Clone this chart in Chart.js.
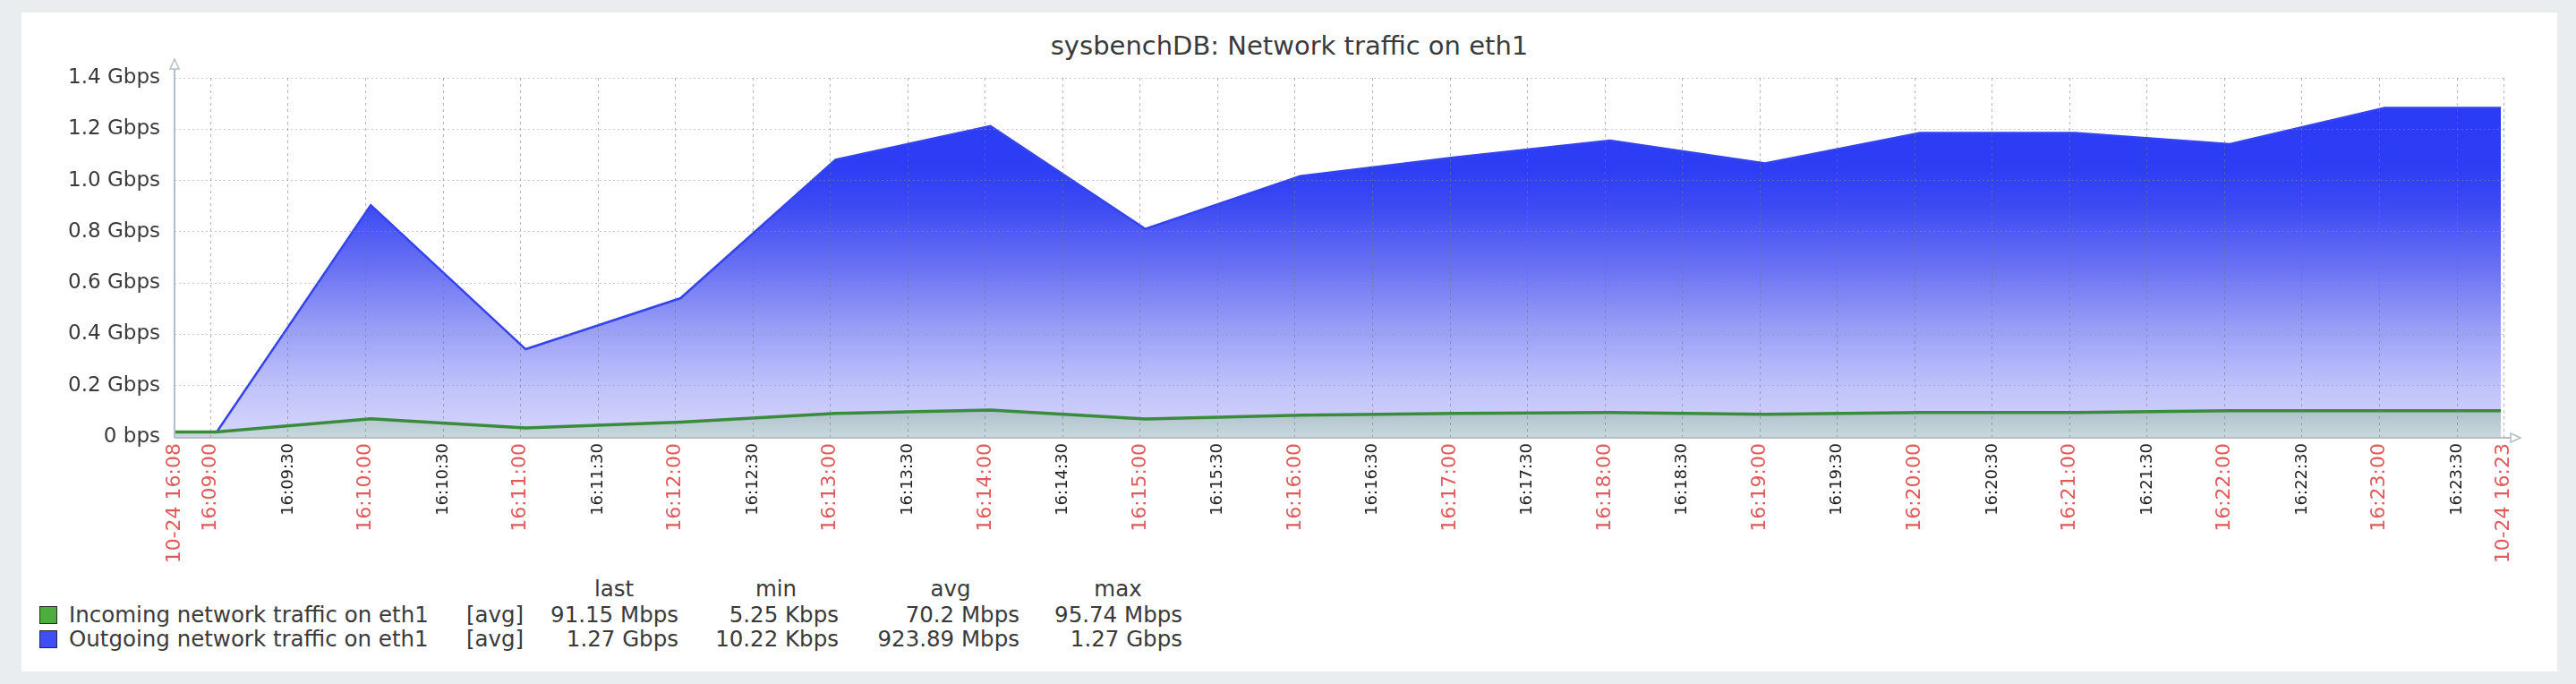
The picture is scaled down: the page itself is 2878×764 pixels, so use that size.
<!DOCTYPE html>
<html>
<head>
<meta charset="utf-8">
<title>sysbenchDB: Network traffic on eth1</title>
<script src="https://cdn.jsdelivr.net/npm/chart.js@4.4.0/dist/chart.umd.min.js"></script>
<style>
  html, body { margin: 0; padding: 0; }
  body { width: 2878px; height: 764px; background: #e9edf0; position: relative; overflow: hidden; font-family: "DejaVu Sans", sans-serif; color: #3a3a3a; }
  #panel { position: absolute; left: 24px; top: 14px; width: 2833px; height: 736px; background: #fff; }
  #title { position: absolute; left: 0; width: 2833px; top: 20px; text-align: center; font-size: 29px; line-height: 34px; color: #3a3a3a; }
  #chartBox { position: absolute; left: 0; top: 0; width: 2833px; height: 614px; }
  .lg { position: absolute; font-size: 24.5px; line-height: 28px; white-space: nowrap; color: #3a3a3a; }
  .sw { position: absolute; width: 18px; height: 18px; border: 1px solid #2a2a2a; }
</style>
</head>
<body>
<div id="panel">
  <div id="title">sysbenchDB: Network traffic on eth1</div>
  <div id="chartBox"><canvas id="chart"></canvas></div>
  <div id="legend"></div>
</div>
<script>
// sample times (one point per minute) and values in Gbps
const times = ['16:08:02', '16:09:02', '16:10:02', '16:11:02', '16:12:02', '16:13:02', '16:14:02', '16:15:02',
               '16:16:02', '16:17:02', '16:18:02', '16:19:02', '16:20:02', '16:21:02', '16:22:02', '16:23:02', '16:23:47'];
const incoming = [0.019, 0.019, 0.071, 0.035, 0.058, 0.092, 0.105, 0.070, 0.085, 0.092, 0.095, 0.088, 0.095, 0.095, 0.102, 0.102, 0.102];
const outgoing = [0.014, 0.014, 0.904, 0.342, 0.541, 1.081, 1.212, 0.811, 1.017, 1.090, 1.156, 1.067, 1.185, 1.185, 1.142, 1.283, 1.283];

const axisStart = '16:08:46';
const axisEnd = '16:23:48';
const xTickLabels = ['10-24 16:08',
  '16:09:00', '16:09:30', '16:10:00', '16:10:30', '16:11:00', '16:11:30', '16:12:00', '16:12:30',
  '16:13:00', '16:13:30', '16:14:00', '16:14:30', '16:15:00', '16:15:30', '16:16:00', '16:16:30',
  '16:17:00', '16:17:30', '16:18:00', '16:18:30', '16:19:00', '16:19:30', '16:20:00', '16:20:30',
  '16:21:00', '16:21:30', '16:22:00', '16:22:30', '16:23:00', '16:23:30',
  '10-24 16:23'];

const yTicks = [0, 0.2, 0.4, 0.6, 0.8, 1.0, 1.2, 1.4];
const yTickLabels = ['0 bps', '0.2 Gbps', '0.4 Gbps', '0.6 Gbps', '0.8 Gbps', '1.0 Gbps', '1.2 Gbps', '1.4 Gbps'];

// legend table
const seriesNames = ['Incoming network traffic on eth1', 'Outgoing network traffic on eth1'];
const seriesSwatch = ['#4cae3c', '#3f4ff6'];
const statLast = ['91.15 Mbps', '1.27 Gbps'];
const statMin = ['5.25 Kbps', '10.22 Kbps'];
const statAvg = ['70.2 Mbps', '923.89 Mbps'];
const statMax = ['95.74 Mbps', '1.27 Gbps'];

function sec(t) {
    const p = t.split(':').map(Number);
    return p[0] * 3600 + p[1] * 60 + p[2];
}

const xMin = sec(axisStart);
const xMax = sec(axisEnd);
const xTickPos = xTickLabels.map((l, i) => {
    if (i === 0) return xMin;
    if (i === xTickLabels.length - 1) return xMax;
    return sec(l);
});

// whole minutes and the two ends are drawn big and red, half minutes small and dark
function isMajor(i) {
    const l = xTickLabels[i] || '';
    return l.startsWith('10-24') || l.endsWith(':00');
}

function blueFill(c) {
    const a = c.chart.chartArea;
    if (!a) return 'rgba(0,0,0,0)';
    const g = c.chart.ctx.createLinearGradient(0, a.top, 0, a.bottom);
    g.addColorStop(0, '#2a3af6');
    g.addColorStop(0.26, '#2e3ef5');
    g.addColorStop(0.36, '#3d4bf3');
    g.addColorStop(0.53, '#6a72f3');
    g.addColorStop(0.70, '#9a9ff6');
    g.addColorStop(0.86, '#c0c2fa');
    g.addColorStop(1, '#d6d6fc');
    return g;
}

function greenFill(c) {
    const a = c.chart.chartArea;
    if (!a) return 'rgba(0,0,0,0)';
    const top = c.chart.scales.y.getPixelForValue(0.11);
    const g = c.chart.ctx.createLinearGradient(0, top, 0, a.bottom);
    g.addColorStop(0, '#adbfca');
    g.addColorStop(1, '#c8d8de');
    return g;
}

// axis lines with the little arrow heads
const axisArrows = {
    id: 'axisArrows',
    afterDraw(chart) {
        const { ctx, chartArea: a } = chart;
        ctx.save();
        ctx.strokeStyle = '#b4bec6';
        ctx.lineWidth = 2;
        ctx.beginPath();
        ctx.moveTo(a.left, a.bottom + 1);
        ctx.lineTo(a.right + 8, a.bottom + 1);
        ctx.moveTo(a.left, a.bottom + 1);
        ctx.lineTo(a.left, a.top - 10);
        ctx.stroke();
        ctx.fillStyle = '#fff';
        ctx.lineWidth = 1.5;
        ctx.beginPath();
        ctx.moveTo(a.left - 5, a.top - 10);
        ctx.lineTo(a.left + 5, a.top - 10);
        ctx.lineTo(a.left, a.top - 21);
        ctx.closePath();
        ctx.fill();
        ctx.stroke();
        ctx.beginPath();
        ctx.moveTo(a.right + 8, a.bottom + 1 - 5);
        ctx.lineTo(a.right + 8, a.bottom + 1 + 5);
        ctx.lineTo(a.right + 19, a.bottom + 1);
        ctx.closePath();
        ctx.fill();
        ctx.stroke();
        ctx.restore();
    }
};

new Chart(document.getElementById('chart'), {
    type: 'line',
    data: {
        datasets: [{
            label: seriesNames[0],
            data: times.map((t, i) => ({ x: sec(t), y: incoming[i] })),
            borderColor: '#3a8c3c',
            borderWidth: 3.5,
            backgroundColor: greenFill,
            fill: 'origin',
            pointRadius: 0,
            tension: 0,
            clip: 0
        }, {
            label: seriesNames[1],
            data: times.map((t, i) => ({ x: sec(t), y: outgoing[i] })),
            borderColor: '#3343ef',
            borderWidth: 2.5,
            backgroundColor: blueFill,
            fill: 'origin',
            pointRadius: 0,
            tension: 0,
            clip: 0
        }]
    },
    options: {
        responsive: true,
        maintainAspectRatio: false,
        animation: false,
        events: [],
        layout: { padding: { top: 73, right: 60, left: 0, bottom: 0 } },
        plugins: {
            legend: { display: false },
            title: { display: false },
            tooltip: { enabled: false }
        },
        scales: {
            x: {
                type: 'linear',
                min: xMin,
                max: xMax,
                afterBuildTicks: s => { s.ticks = xTickPos.map(v => ({ value: v })); },
                afterFit: s => { s.height = 140; },
                grid: { color: 'rgba(110,120,130,0.55)', lineWidth: 1, drawTicks: false, z: 1 },
                border: { display: false, dash: [3, 4] },
                ticks: {
                    autoSkip: false,
                    maxRotation: 90,
                    minRotation: 90,
                    padding: 7,
                    font: c => ({ family: 'DejaVu Sans', size: isMajor(c.index) ? 22 : 18 }),
                    color: c => isMajor(c.index) ? '#df5a5a' : '#222222',
                    callback: (v, i) => xTickLabels[i]
                }
            },
            y: {
                min: 0,
                max: 1.4,
                afterBuildTicks: s => { s.ticks = yTicks.map(v => ({ value: v })); },
                afterFit: s => { s.width = 171; },
                grid: { color: 'rgba(140,150,160,0.5)', lineWidth: 1, drawTicks: false, z: 1 },
                border: { display: false, dash: [2, 3] },
                ticks: {
                    padding: 16,
                    font: { family: 'DejaVu Sans', size: 23 },
                    color: '#3a3a3a',
                    callback: (v, i) => yTickLabels[i]
                }
            }
        }
    },
    plugins: [axisArrows]
});

// legend table under the chart (coords inside the white panel)
const legend = document.getElementById('legend');
function put(text, x, y, align) {
    const d = document.createElement('div');
    d.className = 'lg';
    d.textContent = text;
    d.style.left = x + 'px';
    d.style.top = (y - 14) + 'px';
    if (align === 'right') d.style.transform = 'translateX(-100%)';
    if (align === 'center') d.style.transform = 'translateX(-50%)';
    legend.appendChild(d);
}

put('last', 662, 644, 'center');
put('min', 843, 644, 'center');
put('avg', 1038, 644, 'center');
put('max', 1225, 644, 'center');

const rowY = [673, 700];
for (let i = 0; i < seriesNames.length; i++) {
    const sw = document.createElement('div');
    sw.className = 'sw';
    sw.style.left = '20px';
    sw.style.top = (rowY[i] - 10) + 'px';
    sw.style.background = seriesSwatch[i];
    legend.appendChild(sw);
    put(seriesNames[i], 53, rowY[i], 'left');
    put('[avg]', 497, rowY[i], 'left');
    put(statLast[i], 734, rowY[i], 'right');
    put(statMin[i], 913, rowY[i], 'right');
    put(statAvg[i], 1115, rowY[i], 'right');
    put(statMax[i], 1297, rowY[i], 'right');
}
</script>
</body>
</html>
